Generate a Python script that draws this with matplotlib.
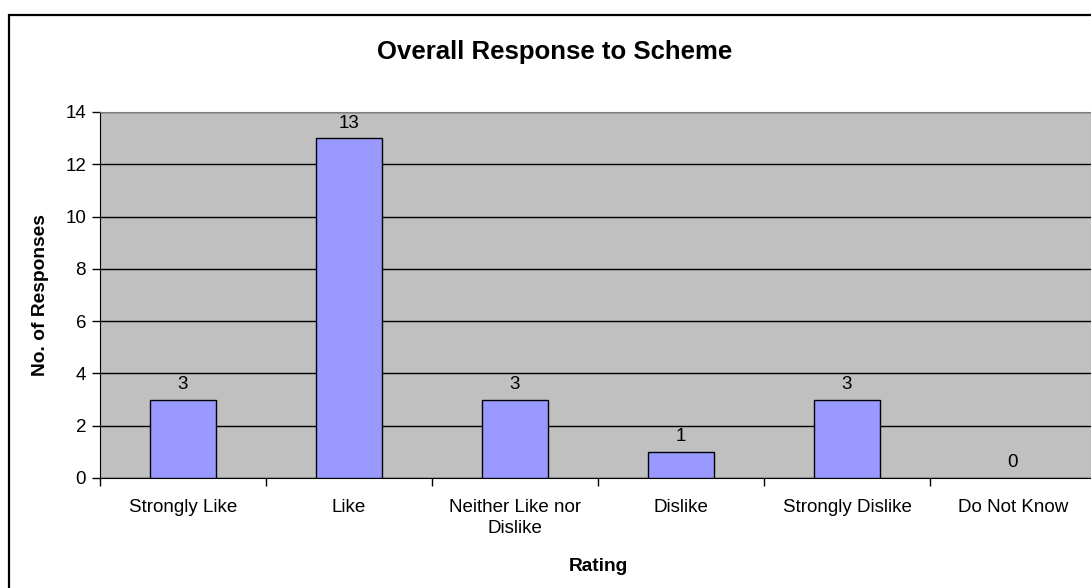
import matplotlib.pyplot as plt
from matplotlib.patches import Rectangle

plt.rcParams['font.family'] = ['Liberation Sans', 'DejaVu Sans']

# chart data
categories = ['Strongly Like', 'Like', 'Neither Like nor\nDislike', 'Dislike',
              'Strongly Dislike', 'Do Not Know']
responses = [3, 13, 3, 1, 3, 0]
y_ticks = [0, 2, 4, 6, 8, 10, 12, 14]

fig = plt.figure(figsize=(10.91, 5.88), dpi=100)

# outer chart frame (cut off at right and bottom like the original)
frame = Rectangle((9 / 1091, -0.05), 1.1, 0.9745 + 0.05,
                  transform=fig.transFigure, fill=False, edgecolor='black',
                  linewidth=1.6, clip_on=False)
fig.add_artist(frame)

ax = fig.add_axes([100 / 1091, 1 - 478 / 588, 996 / 1091, 366 / 588])
ax.set_facecolor('#C0C0C0')

x = list(range(len(categories)))
bars = ax.bar(x, responses, width=0.4, color='#9999FF', edgecolor='black',
              linewidth=1.0, zorder=3)
for b, v in zip(bars, responses):
    if v == 0:
        b.set_edgecolor('none')
for xi, v in zip(x, responses):
    ax.text(xi, v + 0.25, str(v), ha='center', va='bottom', fontsize=13.5,
            zorder=4)

ax.set_xlim(-0.5, len(categories) - 0.5)
ax.set_ylim(0, 14)
ax.set_yticks(y_ticks)
ax.yaxis.grid(True, color='black', linewidth=1.0, zorder=1)
ax.set_axisbelow(True)

ax.set_xticks(x)
ax.set_xticklabels(categories, fontsize=13.5, linespacing=1.33)
ax.set_xticks([i - 0.5 for i in range(len(categories) + 1)], minor=True)
ax.tick_params(axis='x', which='major', length=0, pad=15)
ax.tick_params(axis='x', which='minor', length=6, width=1, direction='out')
ax.tick_params(axis='y', length=6, width=1, labelsize=13.5, pad=4)

for side in ['top', 'right']:
    ax.spines[side].set_color('#808080')
ax.spines['left'].set_color('black')
ax.spines['bottom'].set_color('black')

ax.set_ylabel('No. of Responses', fontsize=13.8, fontweight='bold', labelpad=12)
ax.set_xlabel('Rating', fontsize=13.8, fontweight='bold', labelpad=15)
fig.text(555 / 1091, 1 - 52 / 588, 'Overall Response to Scheme',
         ha='center', va='center', fontsize=18.5, fontweight='bold')

fig.savefig('out.png', dpi=100)
